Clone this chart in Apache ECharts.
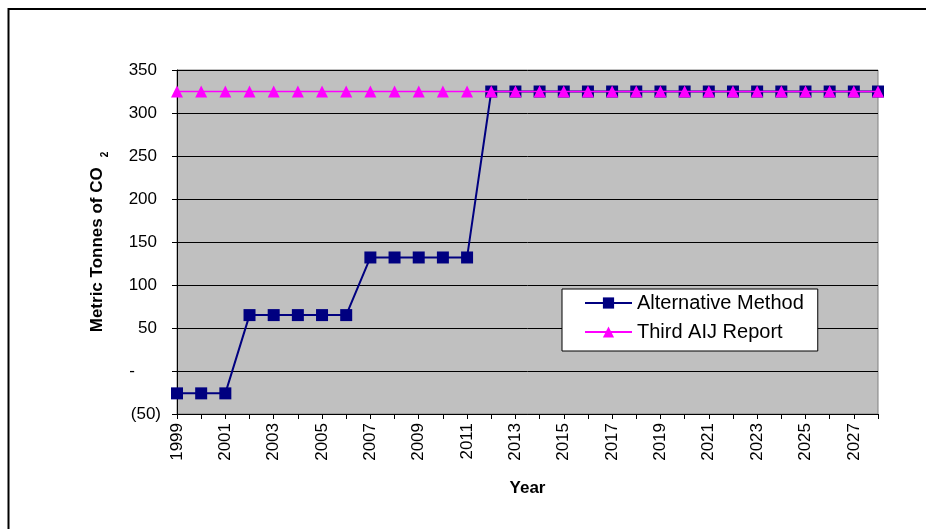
<!DOCTYPE html>
<html>
<head>
<meta charset="utf-8">
<script src="https://cdn.jsdelivr.net/npm/echarts@6/dist/echarts.min.js"></script>
<style>html,body{margin:0;padding:0;background:#fff}#c{width:926px;height:529px}</style>
</head>
<body>
<div id="c"></div>
<script>
const years = ['1999','2000','2001','2002','2003','2004','2005','2006','2007','2008','2009','2010','2011','2012','2013','2014','2015','2016','2017','2018','2019','2020','2021','2022','2023','2024','2025','2026','2027','2028'];
const alternativeMethod = [-26,-26,-26,65,65,65,65,65,132,132,132,132,132,325,325,325,325,325,325,325,325,325,325,325,325,325,325,325,325,325];
const thirdAIJReport = [325,325,325,325,325,325,325,325,325,325,325,325,325,325,325,325,325,325,325,325,325,325,325,325,325,325,325,325,325,325];
const yTickLabels = {'-50':'(50)','0':'-'};

const font = 'Liberation Sans, Arial, sans-serif';
const chart = echarts.init(document.getElementById('c'));
chart.setOption({
  animation: false,
  backgroundColor: '#fff',
  textStyle: {fontFamily: font},
  graphic: [{
    type: 'rect', silent: true, z: -1,
    shape: {x: 8.5, y: 9, width: 1000, height: 1000},
    style: {fill: 'none', stroke: '#000', lineWidth: 2}
  }],
  grid: {left: 177, right: 48, top: 70, bottom: 115, show: true,
         backgroundColor: '#C0C0C0', borderColor: '#808080', borderWidth: 1},
  legend: {
    orient: 'vertical', left: 562, top: 289,
    backgroundColor: '#fff', borderColor: '#000', borderWidth: 1,
    padding: [4, 14, 9, 22], itemGap: 9, itemWidth: 47, itemHeight: 14,
    textStyle: {fontFamily: font, fontSize: 20, color: '#000'},
    data: ['Alternative Method', 'Third AIJ Report']
  },
  xAxis: {
    type: 'category', data: years, boundaryGap: false,
    name: 'Year', nameLocation: 'middle', nameGap: 66,
    nameTextStyle: {fontFamily: font, fontWeight: 'bold', fontSize: 17, color: '#000'},
    axisLine: {onZero: false, lineStyle: {color: '#000', width: 1}},
    axisTick: {show: true, interval: 0, length: 5, lineStyle: {color: '#000'}},
    axisLabel: {interval: 1, rotate: 90, fontFamily: font, fontSize: 17, color: '#000', margin: 9},
    splitLine: {show: false}
  },
  yAxis: {
    type: 'value', min: -50, max: 350, interval: 50,
    name: '{a|Metric Tonnes of CO}{b|2}', nameLocation: 'middle', nameGap: 71, nameRotate: 90,
    nameTextStyle: {rich: {
      a: {fontFamily: font, fontWeight: 'bold', fontSize: 17, color: '#000', lineHeight: 17, verticalAlign: 'top'},
      b: {fontFamily: font, fontWeight: 'bold', fontSize: 10, color: '#000', lineHeight: 17, verticalAlign: 'top', padding: [11, 0, 0, 10]}
    }},
    axisLine: {show: true, onZero: false, lineStyle: {color: '#000', width: 1}},
    axisTick: {show: true, length: 5, lineStyle: {color: '#000'}},
    axisLabel: {fontFamily: font, fontSize: 17, color: '#000', margin: 16,
      formatter: v => {
        const k = String(v);
        if (k === '0') return '{d|' + yTickLabels[k] + '}';
        if (yTickLabels[k] !== undefined) return yTickLabels[k];
        return '{n|' + k + '}';
      },
      rich: {
        n: {fontFamily: font, fontSize: 17, color: '#000', padding: [0, 4, 0, 0]},
        d: {fontFamily: font, fontSize: 17, color: '#000', padding: [0, 26, 0, 0]}
      }
    },
    splitLine: {show: true, lineStyle: {color: '#000', width: 1}}
  },
  series: [
    {name: 'Alternative Method', type: 'line', data: alternativeMethod,
     symbol: 'rect', symbolSize: 12, showAllSymbol: true,
     itemStyle: {color: '#000080'}, lineStyle: {color: '#000080', width: 2}, z: 3},
    {name: 'Third AIJ Report', type: 'line', data: thirdAIJReport,
     symbol: 'triangle', symbolSize: 12, showAllSymbol: true,
     itemStyle: {color: '#FF00FF'}, lineStyle: {color: '#FF00FF', width: 1.5}, z: 4}
  ]
});
</script>
</body>
</html>
